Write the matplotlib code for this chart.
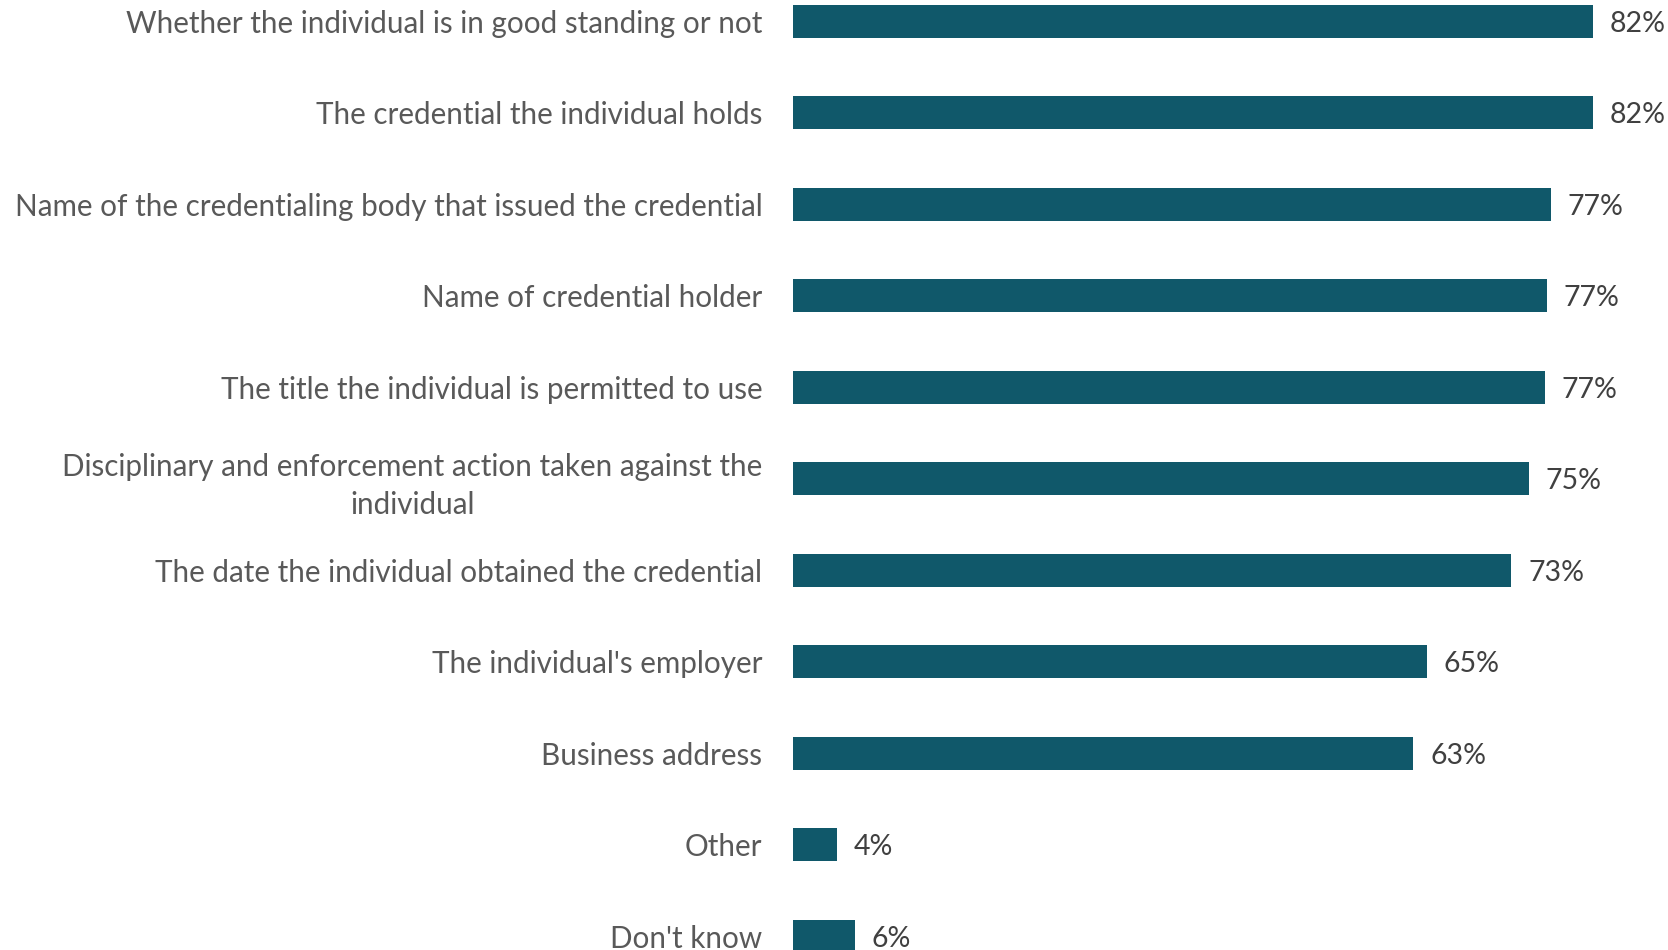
import matplotlib
matplotlib.use("Agg")
import matplotlib.pyplot as plt

# survey answers, top to bottom
items = [
    "Whether the individual is in good standing or not",
    "The credential the individual holds",
    "Name of the credentialing body that issued the credential",
    "Name of credential holder",
    "The title the individual is permitted to use",
    "Disciplinary and enforcement action taken against the\nindividual",
    "The date the individual obtained the credential",
    "The individual's employer",
    "Business address",
    "Other",
    "Don't know",
]
pct = [81.6, 81.6, 77.3, 76.9, 76.7, 75.1, 73.3, 64.7, 63.3, 4.5, 6.3]

bar_color = "#10586a"
W, H = 1668, 950

plt.rcParams["font.family"] = ["Lato", "DejaVu Sans"]

fig = plt.figure(figsize=(W / 100, H / 100), dpi=100)
x0 = 793
ax = fig.add_axes([x0 / W, 0, (W - x0) / W, 1])

pos = list(range(len(items)))
ax.barh(pos, pct, height=0.36, color=bar_color)

# 9.8 px per percent, first row centred 21 px from the top, 91.5 px per row
ax.set_xlim(0, (W - x0) / 9.8)
ax.set_ylim(-21.3 / 91.5 + H / 91.5, -21.3 / 91.5)

for y, v in zip(pos, pct):
    ax.text(v + 1.7, y + 0.025, "{:.0f}%".format(v), va="center", ha="left",
            fontsize=20.5, color="#404040")

ax.set_yticks(pos)
ax.set_yticklabels(items, fontsize=21.3, color="#595959",
                   multialignment="center", linespacing=1.4)
ax.tick_params(axis="y", length=0, pad=22)
ax.set_xticks([])
for s in ax.spines.values():
    s.set_visible(False)

fig.savefig("out.png", dpi=100)
